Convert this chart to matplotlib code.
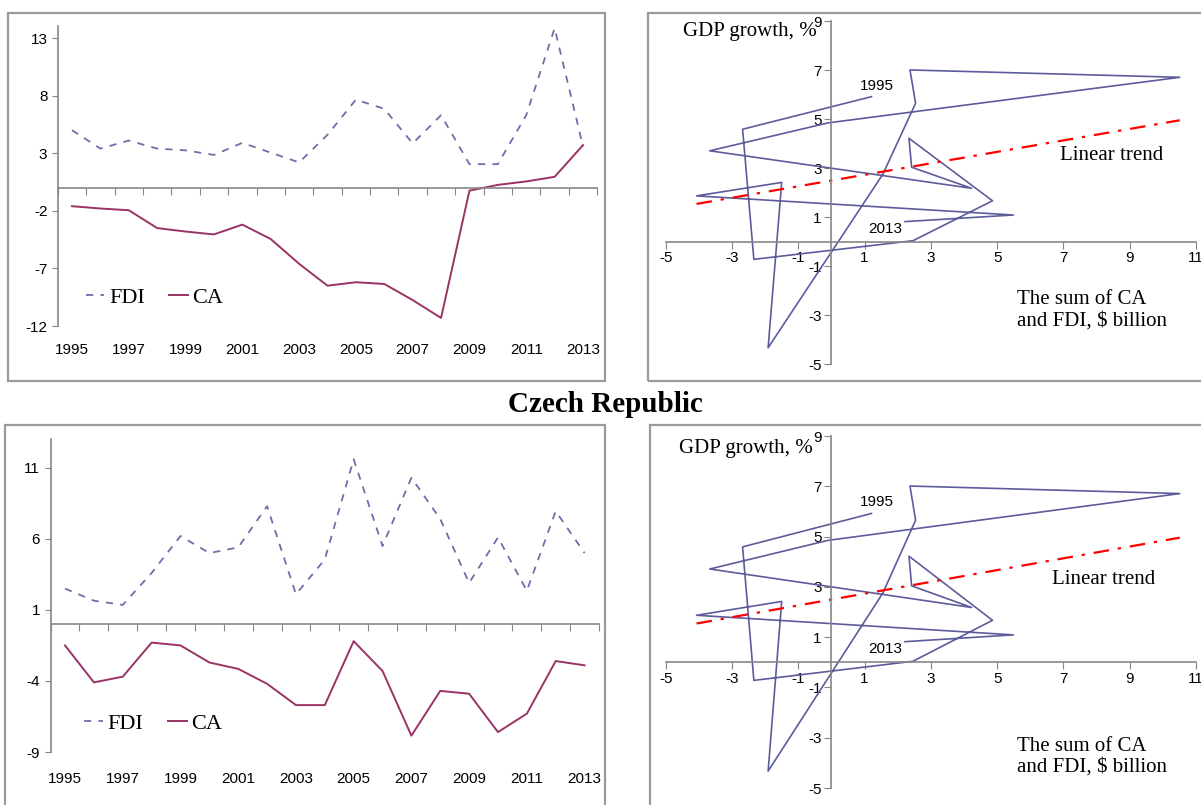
import matplotlib
matplotlib.use("Agg")
import matplotlib.pyplot as plt
import matplotlib.transforms as mtransforms
from matplotlib.patches import Rectangle
import numpy as np

plt.rcParams['font.family'] = ['Liberation Sans', 'DejaVu Sans']
plt.rcParams['axes.unicode_minus'] = False

# data
years = list(range(1995, 2014))

hu_fdi = [5.0, 3.4, 4.1, 3.4, 3.25, 2.85, 3.9, 3.05, 2.2, 4.6,
          7.65, 6.85, 3.85, 6.3, 2.05, 2.05, 6.3, 13.85, 3.6]
hu_ca = [-1.6, -1.8, -1.95, -3.5, -3.8, -4.05, -3.2, -4.45, -6.6, -8.5,
         -8.2, -8.35, -9.75, -11.3, -0.25, 0.25, 0.55, 0.95, 3.7]

cz_fdi = [2.5, 1.65, 1.35, 3.6, 6.2, 5.0, 5.4, 8.3, 2.1, 4.55,
          11.6, 5.5, 10.3, 7.4, 2.9, 6.1, 2.35, 7.95, 5.0]
cz_ca = [-1.5, -4.1, -3.7, -1.3, -1.5, -2.7, -3.15, -4.2, -5.7, -5.7,
         -1.2, -3.3, -7.85, -4.7, -4.9, -7.6, -6.3, -2.6, -2.9]

# sum of CA and FDI vs GDP growth (same in both right panels)
sum_ca_fdi = [1.21, -2.68, -2.34, 2.46, 4.86, 2.34, 2.42, 4.23, -3.67, -0.1,
              10.51, 2.37, 2.54, 1.55, -1.91, -1.50, -4.07, 5.49, 2.22]
gdp_growth = [5.92, 4.59, -0.72, 0.04, 1.67, 4.22, 3.04, 2.18, 3.71, 4.85,
              6.71, 7.01, 5.65, 2.75, -4.33, 2.42, 1.87, 1.09, 0.82]

hu_yticks = [-12, -7, -2, 3, 8, 13]
cz_yticks = [-9, -4, 1, 6, 11]

W, H = 1201, 805
fig = plt.figure(figsize=(W / 100, H / 100), dpi=100)

FDI_COL = '#6e6ea8'
CA_COL = '#993366'
PATH_COL = '#5c5c9c'
AX_COL = '#868686'


def box(x0, y0, x1, y1):
    fig.add_artist(Rectangle((x0 / W, 1 - y1 / H), (x1 - x0) / W, (y1 - y0) / H,
                             transform=fig.transFigure, fill=False,
                             edgecolor='#9a9a9a', linewidth=1.6))


def ax_px(x0, y0, x1, y1):
    return fig.add_axes([x0 / W, 1 - y1 / H, (x1 - x0) / W, (y1 - y0) / H])


def line_panel(ax, fdi, ca, ylim, yticks, lab_off, leg_pos):
    ax.plot(years, fdi, color=FDI_COL, lw=1.3, ls=(0, (4, 4)), label='FDI')
    ax.plot(years, ca, color=CA_COL, lw=1.4, label='CA')
    ax.set_xlim(1994.5, 2013.5)
    ax.set_ylim(*ylim)
    for s in ['top', 'right']:
        ax.spines[s].set_visible(False)
    ax.spines['bottom'].set_position(('data', 0))
    for s in ['bottom', 'left']:
        ax.spines[s].set_color(AX_COL)
        ax.spines[s].set_linewidth(1.2)
    ax.set_xticks(np.arange(1994.5, 2014, 1))
    ax.tick_params(axis='x', direction='out', length=5, color=AX_COL, labelbottom=False)
    ax.set_yticks(yticks)
    ax.tick_params(axis='y', direction='out', length=4, color=AX_COL, labelsize=11)
    tr = mtransforms.blended_transform_factory(ax.transData, ax.transAxes)
    for y in years[::2]:
        ax.text(y, lab_off, str(y), transform=tr, ha='center', va='top', fontsize=11)
    ax.legend(loc='center left', bbox_to_anchor=leg_pos, ncol=2, frameon=False,
              prop={'family': 'Liberation Serif', 'size': 16}, handlelength=0.85,
              columnspacing=1.1, handletextpad=0.2, borderaxespad=0)


def scatter_panel(ax, trend_pos, xlab_pos, ylab_pos):
    ax.plot(sum_ca_fdi, gdp_growth, color=PATH_COL, lw=1.2)
    k, b = np.polyfit(sum_ca_fdi, gdp_growth, 1)
    xs = np.array([min(sum_ca_fdi), max(sum_ca_fdi)])
    ax.plot(xs, k * xs + b, color='#ff0000', lw=1.6, ls=(0, (7, 4, 1.5, 4)))
    ax.set_xlim(-5, 11)
    ax.set_ylim(-5, 9)
    for s in ['top', 'right']:
        ax.spines[s].set_visible(False)
    ax.spines['bottom'].set_position(('data', 0))
    ax.spines['left'].set_position(('data', 0))
    for s in ['bottom', 'left']:
        ax.spines[s].set_color(AX_COL)
        ax.spines[s].set_linewidth(1.2)
    ax.set_xticks(range(-5, 12, 2))
    ax.set_yticks(range(-5, 10, 2))
    ax.tick_params(direction='out', length=5, color=AX_COL, labelsize=11, pad=2)
    ax.text(sum_ca_fdi[0] + 0.15, gdp_growth[0] + 0.45, str(years[0]),
            ha='center', va='center', fontsize=11)
    ax.text(sum_ca_fdi[-1] - 0.6, gdp_growth[-1] - 0.3, str(years[-1]),
            ha='center', va='center', fontsize=11)
    ax.text(*trend_pos, 'Linear trend', ha='center', va='center',
            family='Liberation Serif', fontsize=15)
    ax.text(*xlab_pos, 'The sum of CA\nand FDI, $ billion', ha='left', va='center',
            family='Liberation Serif', fontsize=15, linespacing=1.15)
    ax.text(*ylab_pos, 'GDP growth, %', ha='right', va='center',
            family='Liberation Serif', fontsize=15)
    ax.patch.set_alpha(0)


# frames
box(8, 13, 605, 381)
box(648, 13, 1210, 381)
box(5, 425, 605, 815)
box(650, 425, 1210, 815)

ax1 = ax_px(57.8, 26.5, 597.2, 326)
line_panel(ax1, hu_fdi, hu_ca, (-12, 14), hu_yticks, -0.057, (0.035, 0.095))

ax2 = ax_px(665.7, 21.2, 1196, 364.2)
scatter_panel(ax2, (8.46, 3.5), (5.6, -2.8), (-0.45, 8.6))

ax3 = ax_px(50.6, 439.4, 599, 752)
line_panel(ax3, cz_fdi, cz_ca, (-9, 13), cz_yticks, -0.064, (0.045, 0.09))

ax4 = ax_px(665.7, 436, 1196, 788)
scatter_panel(ax4, (8.2, 3.3), (5.6, -3.75), (-0.55, 8.5))

fig.text(605 / W, 1 - 405 / H, 'Czech Republic', ha='center', va='center',
         family='Liberation Serif', fontsize=21, fontweight='bold')

fig.savefig('out.png', dpi=100)
